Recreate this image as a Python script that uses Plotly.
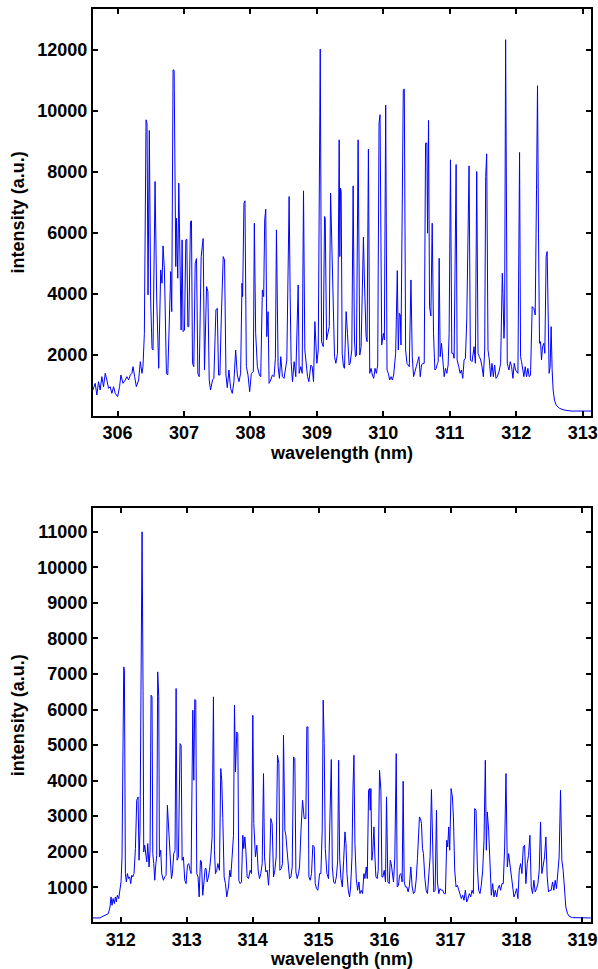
import plotly.graph_objects as go

# ---- Top spectrum (305.6 - 313.1 nm) ----
top_wavelength = [
    305.628, 305.663, 305.688, 305.713, 305.738, 305.763, 305.789, 305.814, 305.839, 305.864,
    305.889, 305.914, 305.940, 305.965, 306.000, 306.030, 306.050, 306.081, 306.116, 306.141,
    306.166, 306.191, 306.216, 306.232, 306.257, 306.282, 306.317, 306.342, 306.367, 306.382,
    306.403, 306.428, 306.443, 306.458, 306.478, 306.498, 306.518, 306.533, 306.564, 306.589,
    306.619, 306.649, 306.669, 306.684, 306.705, 306.735, 306.755, 306.780, 306.800, 306.815,
    306.835, 306.851, 306.876, 306.886, 306.896, 306.906, 306.921, 306.936, 306.956, 306.971,
    306.986, 307.007, 307.027, 307.042, 307.057, 307.072, 307.097, 307.112, 307.127, 307.147,
    307.168, 307.188, 307.208, 307.228, 307.258, 307.288, 307.308, 307.339, 307.359, 307.379,
    307.399, 307.429, 307.449, 307.480, 307.500, 307.520, 307.540, 307.560, 307.590, 307.610,
    307.631, 307.651, 307.676, 307.701, 307.726, 307.751, 307.777, 307.802, 307.827, 307.852,
    307.872, 307.882, 307.902, 307.917, 307.938, 307.963, 307.988, 308.013, 308.043, 308.058,
    308.078, 308.104, 308.134, 308.154, 308.179, 308.199, 308.214, 308.230, 308.245, 308.265,
    308.280, 308.305, 308.330, 308.355, 308.375, 308.391, 308.416, 308.436, 308.456, 308.481,
    308.506, 308.547, 308.567, 308.582, 308.597, 308.612, 308.632, 308.657, 308.682, 308.708,
    308.718, 308.733, 308.758, 308.778, 308.798, 308.818, 308.844, 308.859, 308.879, 308.909,
    308.929, 308.949, 308.969, 308.999, 309.020, 309.040, 309.050, 309.070, 309.095, 309.115,
    309.125, 309.145, 309.166, 309.186, 309.206,
    309.265, 309.285, 309.310, 309.335, 309.345, 309.355, 309.365, 309.380, 309.400, 309.415,
    309.440, 309.460, 309.485, 309.500, 309.525, 309.545, 309.565, 309.580, 309.595, 309.620,
    309.645, 309.665, 309.685, 309.700, 309.715, 309.740, 309.755, 309.775, 309.795, 309.815,
    309.835, 309.855, 309.875, 309.895, 309.915, 309.935, 309.950, 309.975, 310.000, 310.015,
    310.035, 310.055, 310.075, 310.095, 310.115, 310.135, 310.155, 310.185, 310.210, 310.225,
    310.240, 310.255, 310.265, 310.285, 310.300, 310.315, 310.335, 310.355, 310.375, 310.390,
    310.415, 310.435, 310.455, 310.475, 310.495, 310.515, 310.535, 310.555, 310.575, 310.595,
    310.615, 310.635, 310.655, 310.665, 310.680, 310.695, 310.715, 310.735, 310.755, 310.775,
    310.795, 310.815, 310.825, 310.840, 310.855, 310.875, 310.895, 310.915, 310.935, 310.955,
    310.975, 310.990, 311.010, 311.030, 311.050, 311.065, 311.095, 311.110, 311.135, 311.155,
    311.175, 311.195, 311.215, 311.235, 311.255, 311.290, 311.310, 311.335, 311.365, 311.385,
    311.405, 311.425, 311.445, 311.465, 311.485, 311.505, 311.525, 311.540, 311.555, 311.575,
    311.595, 311.615, 311.635, 311.655, 311.675, 311.695, 311.715, 311.740, 311.765, 311.790,
    311.800, 311.815, 311.825, 311.840, 311.865, 311.890, 311.910, 311.930, 311.950, 311.970,
    311.990, 312.025, 312.050, 312.065, 312.080, 312.100, 312.115, 312.135, 312.155, 312.175,
    312.195, 312.215, 312.240, 312.265, 312.285, 312.305, 312.320, 312.335, 312.350, 312.365,
    312.380, 312.395, 312.415, 312.430, 312.450, 312.465, 312.480, 312.495, 312.510, 312.525,
    312.540, 312.555, 312.575, 312.600, 312.650, 312.725, 312.825, 313.150,
]
top_intensity = [
    850, 1071, 688, 1126, 852, 1290, 962, 1399, 1180, 907,
    962, 743, 962, 743, 634, 962, 1344, 1071, 1180, 1290,
    1180, 1344, 1399, 1617, 1290, 962, 1180, 1781, 1399, 1617,
    2710, 9706, 9596, 3967, 9356, 3800, 2219, 2164, 7684, 3800,
    1563, 4787, 4350, 5574, 4787, 1399, 1344, 3476, 4733, 3421,
    11345, 11323, 4896, 6481, 4896, 4514, 7630, 4896, 2820, 5771,
    2765, 2820, 5771, 5793, 2929, 2929, 6372, 6394, 1727, 1617,
    5006, 5159, 1399, 1290, 5224, 5815, 1508, 4241, 4077, 1180,
    852, 1180, 1235, 3476, 3530, 1344, 1344, 3148, 5224, 5115,
    1344, 929, 1508, 907, 743, 1126, 2164, 1344, 1126, 1399,
    4350, 3913, 6973, 7050, 1617, 1344, 798, 1399, 1454, 6317,
    2710, 1617, 1344, 1290, 4131, 3913, 6427, 6776, 2601, 3421,
    1071, 1180, 1344, 1290, 1891, 6099, 1617, 1235, 1945, 1290,
    1235, 1836, 4405, 7192, 4022, 1781, 1126, 1781, 1290, 4186,
    4295, 1399, 1617, 1399, 7378, 2164, 1617, 1290, 1126, 1672,
    1617, 1126, 3093, 1727, 2164, 12023, 12023, 2437, 2273, 6536,
    6481, 2492, 2765, 2929, 7301,
    1945, 1727, 2055, 9050, 5224, 7465, 7356, 2055, 1617, 1563,
    3421, 2710, 1672, 1727, 2164, 7541, 2492, 1945, 2000, 9050,
    2000, 2273, 4569, 5858, 4459, 2601, 2437, 8744, 1399, 1563,
    1344, 1235, 1563, 1399, 1672, 9596, 9870, 2328, 2710, 2492,
    10186, 1508, 1399, 1180, 1290, 1180, 1344, 2055, 4765, 2164,
    3366, 3312, 2328, 7301, 10689, 10711, 2164, 1727, 1672, 1617,
    4459, 1945, 1290, 1508, 1617, 1781, 1945, 1290, 1672, 1727,
    1727, 8941, 8941, 5990, 9684, 3585, 3279, 6317, 2710, 1508,
    1563, 1727, 1781, 5170, 1945, 2383, 1836, 1290, 1563, 1399,
    1672, 2710, 8394, 2055, 2055, 1891, 8241, 1836, 1617, 1399,
    1508, 1235, 1836, 1891, 3148, 8197, 1836, 1781, 2273, 1727,
    8012, 2055, 1945, 1836, 1617, 1290, 2164, 7848, 8591, 2164,
    1836, 1290, 1727, 1290, 1672, 1235, 1290, 1454, 1727, 4678,
    4022, 2547, 3148, 12329, 1727, 1508, 1781, 1617, 1235, 1727,
    1508, 1399, 8635, 1945, 1781, 1508, 1290, 1617, 1290, 1563,
    1290, 1344, 3585, 3530, 3312, 7410, 10821, 5990, 2383, 2437,
    1836, 2273, 2383, 2055, 5224, 5388, 2601, 1399, 1617, 2929,
    1508, 852, 524, 360, 251, 196, 164, 164,
]

# ---- Bottom spectrum (311.6 - 319.1 nm) ----
bottom_wavelength = [
    311.575, 311.686, 311.712, 311.762, 311.813, 311.838, 311.853, 311.868, 311.884, 311.904,
    311.919, 311.934, 311.949, 311.970, 311.985, 312.005, 312.020, 312.030, 312.046, 312.056,
    312.071, 312.086, 312.101, 312.121, 312.137, 312.152, 312.167, 312.182, 312.202, 312.223,
    312.243, 312.263, 312.278, 312.293, 312.309, 312.324, 312.339, 312.349, 312.364, 312.379,
    312.395, 312.410, 312.430, 312.445, 312.460, 312.475, 312.486, 312.501, 312.516, 312.531,
    312.546, 312.561, 312.577, 312.587, 312.607, 312.622, 312.647, 312.668, 312.688, 312.708,
    312.723, 312.749, 312.769, 312.784, 312.804, 312.824, 312.840, 312.855, 312.875, 312.900,
    312.916, 312.931, 312.951, 312.971, 312.991, 313.012, 313.032, 313.052, 313.067, 313.093,
    313.108, 313.123, 313.138, 313.153, 313.173, 313.189, 313.209, 313.224, 313.244, 313.265,
    313.280, 313.295, 313.310, 313.330, 313.346, 313.366, 313.386, 313.406, 313.421, 313.437,
    313.457, 313.472, 313.497, 313.517, 313.532, 313.548, 313.568, 313.588, 313.608, 313.634,
    313.654, 313.669, 313.689, 313.710, 313.725, 313.740, 313.760, 313.775, 313.791, 313.811,
    313.831, 313.851, 313.866, 313.882, 313.897, 313.917, 313.937, 313.963, 313.983, 314.003,
    314.018, 314.043, 314.064, 314.084, 314.104, 314.124, 314.145, 314.165, 314.180, 314.200,
    314.221, 314.241, 314.256, 314.276, 314.296, 314.317, 314.337, 314.357, 314.377, 314.398,
    314.413, 314.433, 314.453, 314.468, 314.489, 314.504, 314.524, 314.544, 314.559, 314.580,
    314.600, 314.620, 314.640, 314.656, 314.676, 314.696, 314.711, 314.736, 314.757, 314.782,
    314.807, 314.822, 314.838, 314.853, 314.873, 314.893, 314.913, 314.934, 314.949, 314.969,
    314.989, 315.015, 315.035, 315.055, 315.070, 315.085, 315.101, 315.126, 315.151,
    315.193, 315.208, 315.228, 315.249, 315.269, 315.289, 315.304, 315.319, 315.339, 315.360,
    315.380, 315.400, 315.415, 315.430, 315.450, 315.470, 315.486, 315.506, 315.521, 315.536,
    315.551, 315.571, 315.592, 315.612, 315.627, 315.647, 315.667, 315.687, 315.702, 315.723,
    315.738, 315.758, 315.773, 315.783, 315.793, 315.808, 315.823, 315.839, 315.854, 315.869,
    315.889, 315.904, 315.924, 315.945, 315.960, 315.975, 315.995, 316.015, 316.030, 316.050,
    316.071, 316.086, 316.101, 316.121, 316.136, 316.156, 316.177, 316.192, 316.212, 316.227,
    316.247, 316.267, 316.282, 316.298, 316.318, 316.338, 316.358, 316.378, 316.398, 316.419,
    316.439, 316.459, 316.479, 316.499, 316.514, 316.529, 316.545, 316.560, 316.575, 316.590,
    316.610, 316.630, 316.651, 316.671, 316.691, 316.711, 316.731, 316.746, 316.767, 316.787,
    316.802, 316.822, 316.842, 316.862, 316.882, 316.903, 316.923, 316.943, 316.958, 316.973,
    316.988, 317.009, 317.029, 317.044, 317.064, 317.084, 317.104, 317.125, 317.145, 317.165,
    317.185, 317.205, 317.225, 317.246, 317.266, 317.286, 317.306, 317.326, 317.346, 317.367,
    317.387, 317.407, 317.427, 317.447, 317.467, 317.488, 317.508, 317.528, 317.543, 317.558,
    317.578, 317.599, 317.619, 317.639, 317.659, 317.679, 317.700, 317.720, 317.740, 317.760,
    317.780, 317.800, 317.821, 317.841, 317.861, 317.881, 317.901, 317.921, 317.942, 317.962,
    317.982, 318.002, 318.022, 318.042, 318.063, 318.083, 318.103, 318.123, 318.143, 318.163,
    318.183, 318.204, 318.224, 318.244, 318.264, 318.284, 318.305, 318.325, 318.345, 318.365,
    318.385, 318.405, 318.426, 318.446, 318.466, 318.486, 318.506, 318.526, 318.547, 318.567,
    318.587, 318.607, 318.627, 318.647, 318.668, 318.688, 318.708, 318.728, 318.748, 318.774,
    318.799, 318.849, 319.127,
]
bottom_intensity = [
    137, 137, 165, 212, 259, 447, 728, 493, 681, 540,
    728, 587, 775, 681, 916, 1150, 1854, 4668, 7200, 7106,
    1385, 1150, 1385, 1244, 1291, 1103, 1338, 1291, 1385, 2088,
    3448, 3542, 1760, 2604, 7482, 10999, 6544, 1994, 2182, 1947,
    1713, 2229, 1572, 2041, 6403, 6356, 1947, 1666, 1197, 1619,
    1900, 7059, 6356, 1854, 2041, 1385, 1197, 1291, 1338, 3307,
    2792, 1666, 1244, 1385, 1947, 2041, 6591, 1760, 1854, 5043,
    4996, 1760, 1854, 1197, 1103, 1619, 1666, 1478, 1385, 5981,
    4011, 6281, 6262, 1385, 1291, 728, 1760, 1713, 775, 1197,
    1525, 1525, 1150, 1291, 1478, 1854, 2416, 6356, 2041, 1385,
    1478, 1666, 1478, 4339, 4011, 2932, 1291, 1103, 728, 1009,
    1478, 1291, 1760, 2463, 6122, 4245, 5371, 5324, 1197, 1103,
    1150, 2463, 2088, 2416, 2041, 1291, 1244, 1478, 1385, 5840,
    2792, 1854, 2182, 1478, 1244, 1385, 1666, 4199, 1854, 1431,
    1478, 1056, 1525, 2932, 2792, 1291, 1478, 1854, 4714, 4480,
    1478, 1525, 1666, 5277, 2604, 2463, 1994, 1666, 1244, 1291,
    1572, 4668, 4621, 1431, 1244, 1385, 1572, 2698, 3448, 2932,
    2932, 5512, 5512, 1291, 1197, 1385, 2182, 2135, 1103, 962,
    916, 1385, 1385, 2604, 6262, 5043, 2088, 1385, 1244,
    4593, 1572, 1150, 1103, 1291, 1713, 4574, 1854, 1244, 1009,
    1760, 2557, 2229, 1385, 916, 728, 1009, 1854, 3730, 4714,
    2229, 1244, 916, 1150, 822, 916, 822, 1385, 1244, 1572,
    1244, 3730, 3777, 3167, 3777, 1760, 2041, 2698, 1854, 1291,
    1244, 1478, 4292, 3730, 1291, 1291, 1478, 1150, 3542, 1150,
    1103, 1760, 1666, 1244, 1150, 1854, 4761, 1009, 1056, 1338,
    1385, 1150, 3983, 1150, 1009, 1009, 869, 1056, 1572, 1009,
    822, 869, 1197, 1807, 2323, 2979, 2932, 2792, 2088, 1947,
    1291, 916, 822, 1478, 1854, 3749, 1854, 869, 916, 3167,
    1150, 822, 962, 916, 916, 822, 822, 2323, 2135, 2698,
    2041, 3777, 3542, 2979, 1478, 1009, 1056, 916, 775, 681,
    775, 634, 916, 587, 681, 822, 728, 916, 822, 3214,
    3167, 1572, 916, 822, 1056, 1478, 2323, 4574, 2041, 3120,
    2604, 1385, 775, 1103, 728, 916, 728, 962, 1056, 916,
    1103, 1103, 2135, 4199, 1572, 1947, 1619, 1291, 916, 728,
    822, 962, 681, 1478, 1666, 1385, 2135, 2182, 1103, 1666,
    1900, 2463, 1009, 822, 1197, 869, 962, 1103, 1478, 2838,
    1385, 1572, 1854, 2416, 1291, 869, 916, 916, 1150, 916,
    1197, 962, 1385, 1854, 3730, 1760, 1478, 916, 447, 259,
    184, 146, 137,
]

top_xticks = [306, 307, 308, 309, 310, 311, 312, 313]
top_yticks = [2000, 4000, 6000, 8000, 10000, 12000]
bottom_xticks = [312, 313, 314, 315, 316, 317, 318, 319]
bottom_yticks = [1000, 2000, 3000, 4000, 5000, 6000, 7000, 8000, 9000, 10000, 11000]

x_title = "wavelength (nm)"
y_title = "intensity (a.u.)"

FONT = "Liberation Sans, Arial, sans-serif"
tickfont = dict(family=FONT, size=18, color="black", weight="bold")
titlefont = dict(family=FONT, size=18, color="black", weight="bold")

fig = go.Figure()
fig.add_trace(go.Scatter(x=top_wavelength, y=top_intensity, mode="lines",
                         line=dict(color="#0000ff", width=1), xaxis="x", yaxis="y",
                         showlegend=False))
fig.add_trace(go.Scatter(x=bottom_wavelength, y=bottom_intensity, mode="lines",
                         line=dict(color="#0000ff", width=1), xaxis="x2", yaxis="y2",
                         showlegend=False))

axis_common = dict(showgrid=False, zeroline=False, showline=True, linecolor="black",
                   linewidth=2, mirror="ticks", ticks="inside", ticklen=5, tickwidth=1.5,
                   tickcolor="black", tickfont=tickfont, automargin=False)

fig.update_layout(
    width=598, height=969,
    margin=dict(l=93, r=7, t=9, b=47),
    paper_bgcolor="white", plot_bgcolor="white",
    xaxis=dict(domain=[0, 1], anchor="y", range=[305.63, 313.125], tickvals=top_xticks,
               tickformat="d",
               title=dict(text=x_title, font=titlefont, standoff=2), **axis_common),
    yaxis=dict(domain=[0.5545, 1.0], anchor="x", range=[10, 13335], tickvals=top_yticks,
               tickformat="d",
               title=dict(text=y_title, font=titlefont, standoff=8), **axis_common),
    xaxis2=dict(domain=[0, 1], anchor="y2", range=[311.58, 319.13], tickvals=bottom_xticks,
                tickformat="d",
                title=dict(text=x_title, font=titlefont, standoff=2), **axis_common),
    yaxis2=dict(domain=[0.0, 0.4531], anchor="x2", range=[23, 11660], tickvals=bottom_yticks,
                tickformat="d",
                title=dict(text=y_title, font=titlefont, standoff=8), **axis_common),
)

fig.write_html("out.html", config={"displayModeBar": False},
               post_script="document.body.style.margin='0';document.body.style.padding='0';")
